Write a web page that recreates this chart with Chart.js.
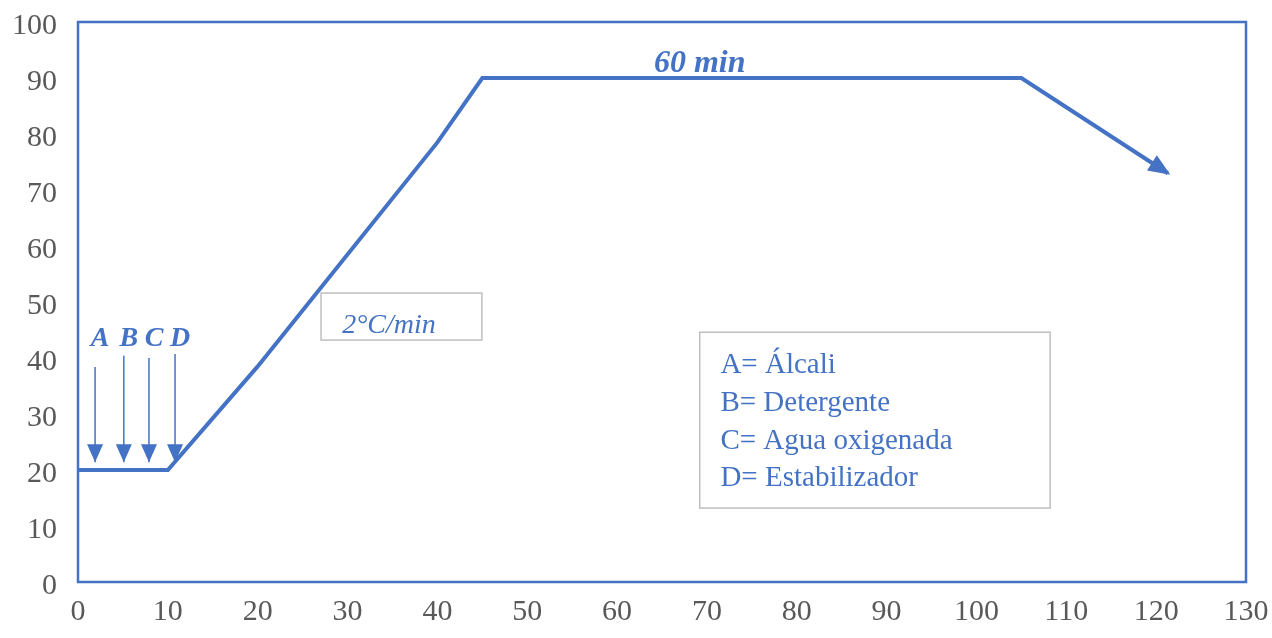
<!DOCTYPE html>
<html>
<head>
<meta charset="utf-8">
<script src="https://cdn.jsdelivr.net/npm/chart.js@4"></script>
<style>
  body { margin: 0; background: #fff; }
  #wrap { width: 1272px; height: 638px; }
</style>
</head>
<body>
<div id="wrap"><canvas id="tempChart" width="1272" height="638"></canvas></div>
<script>
// process curve: time (min) vs temperature (°C)
const timeMin = [0, 10, 20, 40, 45, 105, 121.3];
const tempC = [20, 20, 38.5, 78.5, 90, 90, 73];

// chemical additions (arrows A..D)
const addLabels = ['A', 'B', 'C', 'D'];
const addTimes = [1.9, 5.1, 7.9, 10.8];
const addTop = [38.4, 40.4, 40, 40.7];
const addTip = 21.4;

const legendLines = ['A= Álcali', 'B= Detergente', 'C= Agua oxigenada', 'D= Estabilizador'];
const holdLabel = '60 min';
const rateLabel = '2°C/min';

const xMin = 0, xMax = 130, xStep = 10;
const yMin = 0, yMax = 100, yStep = 10;

const BLUE = '#4472C4';
const SERIF = '"Liberation Serif", "Times New Roman", serif';

const datasets = [{
  data: timeMin.map((t, i) => ({ x: t, y: tempC[i] })),
  showLine: true,
  borderColor: BLUE,
  borderWidth: 4,
  pointRadius: 0,
  tension: 0,
  arrow: { len: 22, half: 9, ext: 3 }
}];
addTimes.forEach((t, i) => {
  datasets.push({
    data: [{ x: t, y: addTop[i] }, { x: t, y: addTip }],
    showLine: true,
    borderColor: BLUE,
    borderWidth: 1.5,
    pointRadius: 0,
    arrow: { len: 18, half: 8, ext: 0 }
  });
});

// arrow heads + frame + text boxes
const extras = {
  id: 'extras',
  afterDatasetsDraw(chart) {
    const c = chart.ctx, xs = chart.scales.x, ys = chart.scales.y;
    const X = v => xs.getPixelForValue(v), Y = v => ys.getPixelForValue(v);
    c.save();

    chart.data.datasets.forEach(ds => {
      if (!ds.arrow) return;
      const n = ds.data.length;
      const p1 = ds.data[n - 2], p2 = ds.data[n - 1];
      const x1 = X(p1.x), y1 = Y(p1.y);
      const a = Math.atan2(Y(p2.y) - y1, X(p2.x) - x1);
      const x2 = X(p2.x) + ds.arrow.ext * Math.cos(a), y2 = Y(p2.y) + ds.arrow.ext * Math.sin(a);
      const L = ds.arrow.len, H = ds.arrow.half;
      c.fillStyle = BLUE;
      c.beginPath();
      c.moveTo(x2, y2);
      c.lineTo(x2 - L * Math.cos(a) + H * Math.sin(a), y2 - L * Math.sin(a) - H * Math.cos(a));
      c.lineTo(x2 - L * Math.cos(a) - H * Math.sin(a), y2 - L * Math.sin(a) + H * Math.cos(a));
      c.closePath();
      c.fill();
    });

    // plot frame
    const ca = chart.chartArea;
    c.strokeStyle = BLUE;
    c.lineWidth = 2.5;
    c.strokeRect(ca.left, ca.top, ca.right - ca.left, ca.bottom - ca.top);

    // A B C D letters
    c.fillStyle = BLUE;
    c.font = 'italic bold 28px ' + SERIF;
    c.textAlign = 'center';
    c.textBaseline = 'alphabetic';
    addLabels.forEach((l, i) => c.fillText(l, X(addTimes[i]) + 5, Y(42.2)));

    // hold time
    c.font = 'italic bold 32px ' + SERIF;
    c.fillText(holdLabel, X(69.2), Y(90) - 6);

    // rate box
    c.strokeStyle = '#bfbfbf';
    c.lineWidth = 1.5;
    c.strokeRect(X(27.05), Y(51.6), X(44.95) - X(27.05), Y(43.2) - Y(51.6));
    c.font = 'italic 28px ' + SERIF;
    c.textAlign = 'left';
    c.fillText(rateLabel, X(29.4), Y(44.4));

    // legend box
    c.strokeRect(X(69.2), Y(44.6), X(108.2) - X(69.2), Y(13.2) - Y(44.6));
    c.font = '29px ' + SERIF;
    legendLines.forEach((t, i) => c.fillText(t, X(71.5), Y(37.3) + i * 37.7));

    c.restore();
  }
};

new Chart(document.getElementById('tempChart'), {
  type: 'scatter',
  data: { datasets: datasets },
  options: {
    responsive: false,
    animation: false,
    layout: { padding: { top: 22, right: 26, bottom: 0, left: 0 } },
    plugins: { legend: { display: false }, tooltip: { enabled: false } },
    scales: {
      x: {
        type: 'linear', min: xMin, max: xMax,
        afterFit: s => { s.height = 56; s.paddingLeft = 0; s.paddingRight = 0; },
        grid: { display: false, drawTicks: false },
        border: { display: false },
        ticks: { stepSize: xStep, color: '#595959', padding: 12, font: { family: SERIF, size: 30 } }
      },
      y: {
        min: yMin, max: yMax,
        afterFit: s => { s.width = 78; s.paddingTop = 0; s.paddingBottom = 0; },
        grid: { display: false, drawTicks: false },
        border: { display: false },
        ticks: { stepSize: yStep, color: '#595959', padding: 21, labelOffset: 4, font: { family: SERIF, size: 30 } }
      }
    }
  },
  plugins: [extras]
});
</script>
</body>
</html>
